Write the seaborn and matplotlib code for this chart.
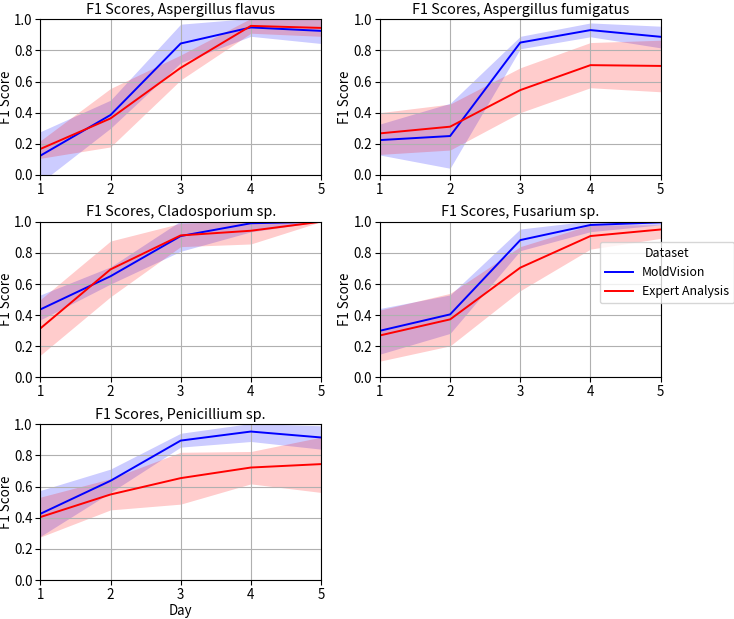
import matplotlib
matplotlib.use("Agg")
from matplotlib import pyplot as plt
import seaborn as sns
import pandas as pd

# Data
days = [1, 2, 3, 4, 5]
species = ['Aspergillus flavus', 'Aspergillus fumigatus', 'Cladosporium sp.',
           'Fusarium sp.', 'Penicillium sp.']

# MoldVision: mean, lower, upper
mv_mean = [
    [0.124, 0.385, 0.844, 0.947, 0.925],
    [0.224, 0.250, 0.850, 0.930, 0.887],
    [0.437, 0.650, 0.908, 0.990, 1.000],
    [0.300, 0.405, 0.882, 0.979, 0.996],
    [0.425, 0.637, 0.895, 0.953, 0.915],
]
mv_lo = [
    [-0.050, 0.300, 0.720, 0.890, 0.844],
    [0.128, 0.043, 0.810, 0.887, 0.816],
    [0.370, 0.600, 0.810, 0.935, 1.000],
    [0.150, 0.283, 0.814, 0.936, 0.980],
    [0.280, 0.562, 0.853, 0.889, 0.840],
]
mv_hi = [
    [0.278, 0.480, 0.968, 1.005, 1.005],
    [0.327, 0.460, 0.890, 0.976, 0.955],
    [0.530, 0.710, 1.005, 1.005, 1.000],
    [0.443, 0.530, 0.953, 1.005, 1.005],
    [0.575, 0.712, 0.942, 1.005, 0.990],
]

# Expert Analysis: mean, lower, upper
ea_mean = [
    [0.167, 0.363, 0.688, 0.957, 0.944],
    [0.267, 0.310, 0.545, 0.705, 0.700],
    [0.315, 0.694, 0.912, 0.942, 1.000],
    [0.270, 0.373, 0.705, 0.908, 0.950],
    [0.404, 0.549, 0.654, 0.722, 0.744],
]
ea_lo = [
    [0.107, 0.180, 0.610, 0.910, 0.890],
    [0.132, 0.160, 0.400, 0.560, 0.534],
    [0.143, 0.518, 0.840, 0.857, 1.000],
    [0.105, 0.203, 0.557, 0.824, 0.893],
    [0.276, 0.450, 0.487, 0.617, 0.562],
]
ea_hi = [
    [0.220, 0.555, 0.770, 1.005, 1.005],
    [0.400, 0.455, 0.688, 0.850, 0.865],
    [0.500, 0.876, 0.990, 1.005, 1.000],
    [0.433, 0.540, 0.840, 0.979, 0.980],
    [0.532, 0.650, 0.820, 0.825, 0.917],
]

datasets = ['MoldVision', 'Expert Analysis']
colors = {'MoldVision': 'blue', 'Expert Analysis': 'red'}

plt.rcParams['font.family'] = ['Noto Sans CJK JP', 'DejaVu Sans']
plt.rcParams['font.size'] = 9.6

fig, axes = plt.subplots(3, 2, figsize=(7.34, 6.19), dpi=100)
fig.subplots_adjust(left=0.055, right=0.9, top=0.969, bottom=0.063, wspace=0.21, hspace=0.3)

for i, name in enumerate(species):
    ax = axes.flat[i]
    rows = []
    for ds, means in zip(datasets, [mv_mean, ea_mean]):
        for d, m in zip(days, means[i]):
            rows.append({'Day': d, 'F1 Score': m, 'Dataset': ds})
    df = pd.DataFrame(rows)
    ax.fill_between(days, mv_lo[i], mv_hi[i], color='blue', alpha=0.2, linewidth=0)
    ax.fill_between(days, ea_lo[i], ea_hi[i], color='red', alpha=0.2, linewidth=0)
    sns.lineplot(data=df, x='Day', y='F1 Score', hue='Dataset', palette=colors,
                 ax=ax, legend=(i == 3), linewidth=1.4)
    ax.set_title(f'F1 Scores, {name}', fontsize=10.4, pad=4)
    ax.set_xlim(1, 5)
    ax.set_ylim(0, 1)
    ax.set_xticks(days)
    ax.grid(True)
    ax.tick_params(labelsize=9.6, length=3.5, pad=2)
    ax.set_ylabel('F1 Score', labelpad=1)
    if i == 4:
        ax.set_xlabel('Day', labelpad=2)
    else:
        ax.set_xlabel('')

axes.flat[5].axis('off')

leg = axes.flat[3].get_legend()
handles, labels = leg.legend_handles, [t.get_text() for t in leg.get_texts()]
leg.remove()
fig.legend(handles, labels, title='Dataset', loc='upper left',
           bbox_to_anchor=(600 / 734, 1 - 242 / 619), fontsize=8.9, title_fontsize=8.9,
           handlelength=2.3, borderaxespad=0, borderpad=0.4, handletextpad=0.7)

plt.savefig('out.png', dpi=100)
